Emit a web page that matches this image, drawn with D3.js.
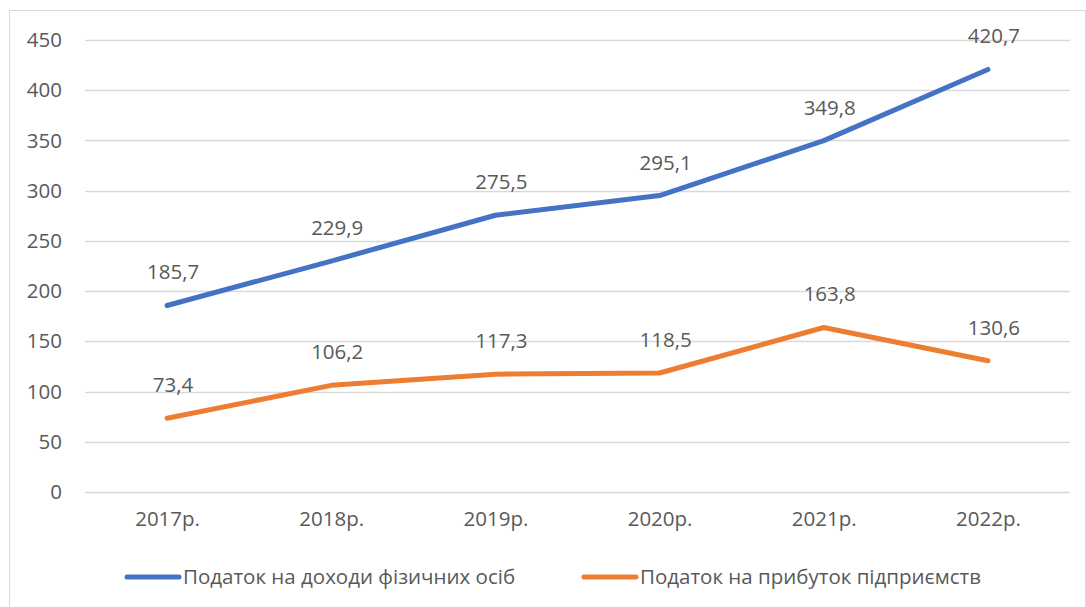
<!DOCTYPE html>
<html>
<head>
<meta charset="utf-8">
<script src="https://cdn.jsdelivr.net/npm/d3@7/dist/d3.min.js"></script>
<style>
  html, body { margin: 0; padding: 0; background: #fff; }
  svg { display: block; }
  text { font-family: "Open Sans", "Noto Sans", sans-serif; fill: #595959; }
</style>
</head>
<body>
<svg id="chart" width="1086" height="607"></svg>
<script>
const years = ["2017р.", "2018р.", "2019р.", "2020р.", "2021р.", "2022р."];
const pitValues = [185.7, 229.9, 275.5, 295.1, 349.8, 420.7];
const citValues = [73.4, 106.2, 117.3, 118.5, 163.8, 130.6];
const yTicks = [0, 50, 100, 150, 200, 250, 300, 350, 400, 450];
const seriesNames = ["Податок на доходи фізичних осіб", "Податок на прибуток підприємств"];
const seriesColors = ["#4472C4", "#ED7D31"];

const svg = d3.select("#chart");
const W = 1086, H = 607;
const FS = "20.5px";

// outer chart frame
svg.append("rect")
  .attr("x", 9.5).attr("y", 10.5)
  .attr("width", W - 10).attr("height", H)
  .attr("fill", "none").attr("stroke", "#d9d9d9").attr("stroke-width", 1);

const plot = { left: 85, right: 1070, top: 40, bottom: 492 };

const x = d3.scalePoint().domain(years)
  .range([plot.left, plot.right]).padding(0.5);
const y = d3.scaleLinear().domain([0, 450]).range([plot.bottom, plot.top]);

// horizontal gridlines
svg.append("g").selectAll("line").data(yTicks).join("line")
  .attr("x1", plot.left).attr("x2", plot.right)
  .attr("y1", d => Math.round(y(d)) + 0.5).attr("y2", d => Math.round(y(d)) + 0.5)
  .attr("stroke", "#d9d9d9").attr("stroke-width", 1.5);

// y axis labels
const yAxis = d3.axisLeft(y).tickValues(yTicks).tickSize(0).tickPadding(0);
const yg = svg.append("g").attr("transform", `translate(62,0)`).call(yAxis);
yg.select(".domain").remove();
yg.selectAll("text").style("font-size", FS).attr("fill", "#595959")
  .style("font-family", '"Open Sans", "Noto Sans", sans-serif');

// x axis labels
const xAxis = d3.axisBottom(x).tickSize(0).tickPadding(0);
const xg = svg.append("g").attr("transform", `translate(0,${plot.bottom + 19})`).call(xAxis);
xg.select(".domain").remove();
xg.selectAll("text").style("font-size", FS).attr("fill", "#595959")
  .style("font-family", '"Open Sans", "Noto Sans", sans-serif');

const line = d3.line().x((d, i) => x(years[i])).y(d => y(d));

const fmt = v => v.toFixed(1).replace(".", ",");

[pitValues, citValues].forEach((vals, k) => {
  svg.append("path")
    .datum(vals)
    .attr("d", line)
    .attr("fill", "none")
    .attr("stroke", seriesColors[k])
    .attr("stroke-width", 5)
    .attr("stroke-linecap", "round")
    .attr("stroke-linejoin", "round");

  svg.append("g").selectAll("text").data(vals).join("text")
    .attr("x", (d, i) => x(years[i]) + 6)
    .attr("y", d => y(d) - 26)
    .attr("text-anchor", "middle")
    .style("font-size", FS)
    .text(d => fmt(d));
});

// legend
const legendItems = [
  { x: 127, name: seriesNames[0], color: seriesColors[0] },
  { x: 584, name: seriesNames[1], color: seriesColors[1] }
];
const lg = svg.append("g");
legendItems.forEach(it => {
  lg.append("line")
    .attr("x1", it.x).attr("x2", it.x + 52)
    .attr("y1", 577).attr("y2", 577)
    .attr("stroke", it.color).attr("stroke-width", 5)
    .attr("stroke-linecap", "round");
  lg.append("text")
    .attr("x", it.x + 56).attr("y", 584)
    .style("font-size", FS)
    .text(it.name);
});
</script>
</body>
</html>
